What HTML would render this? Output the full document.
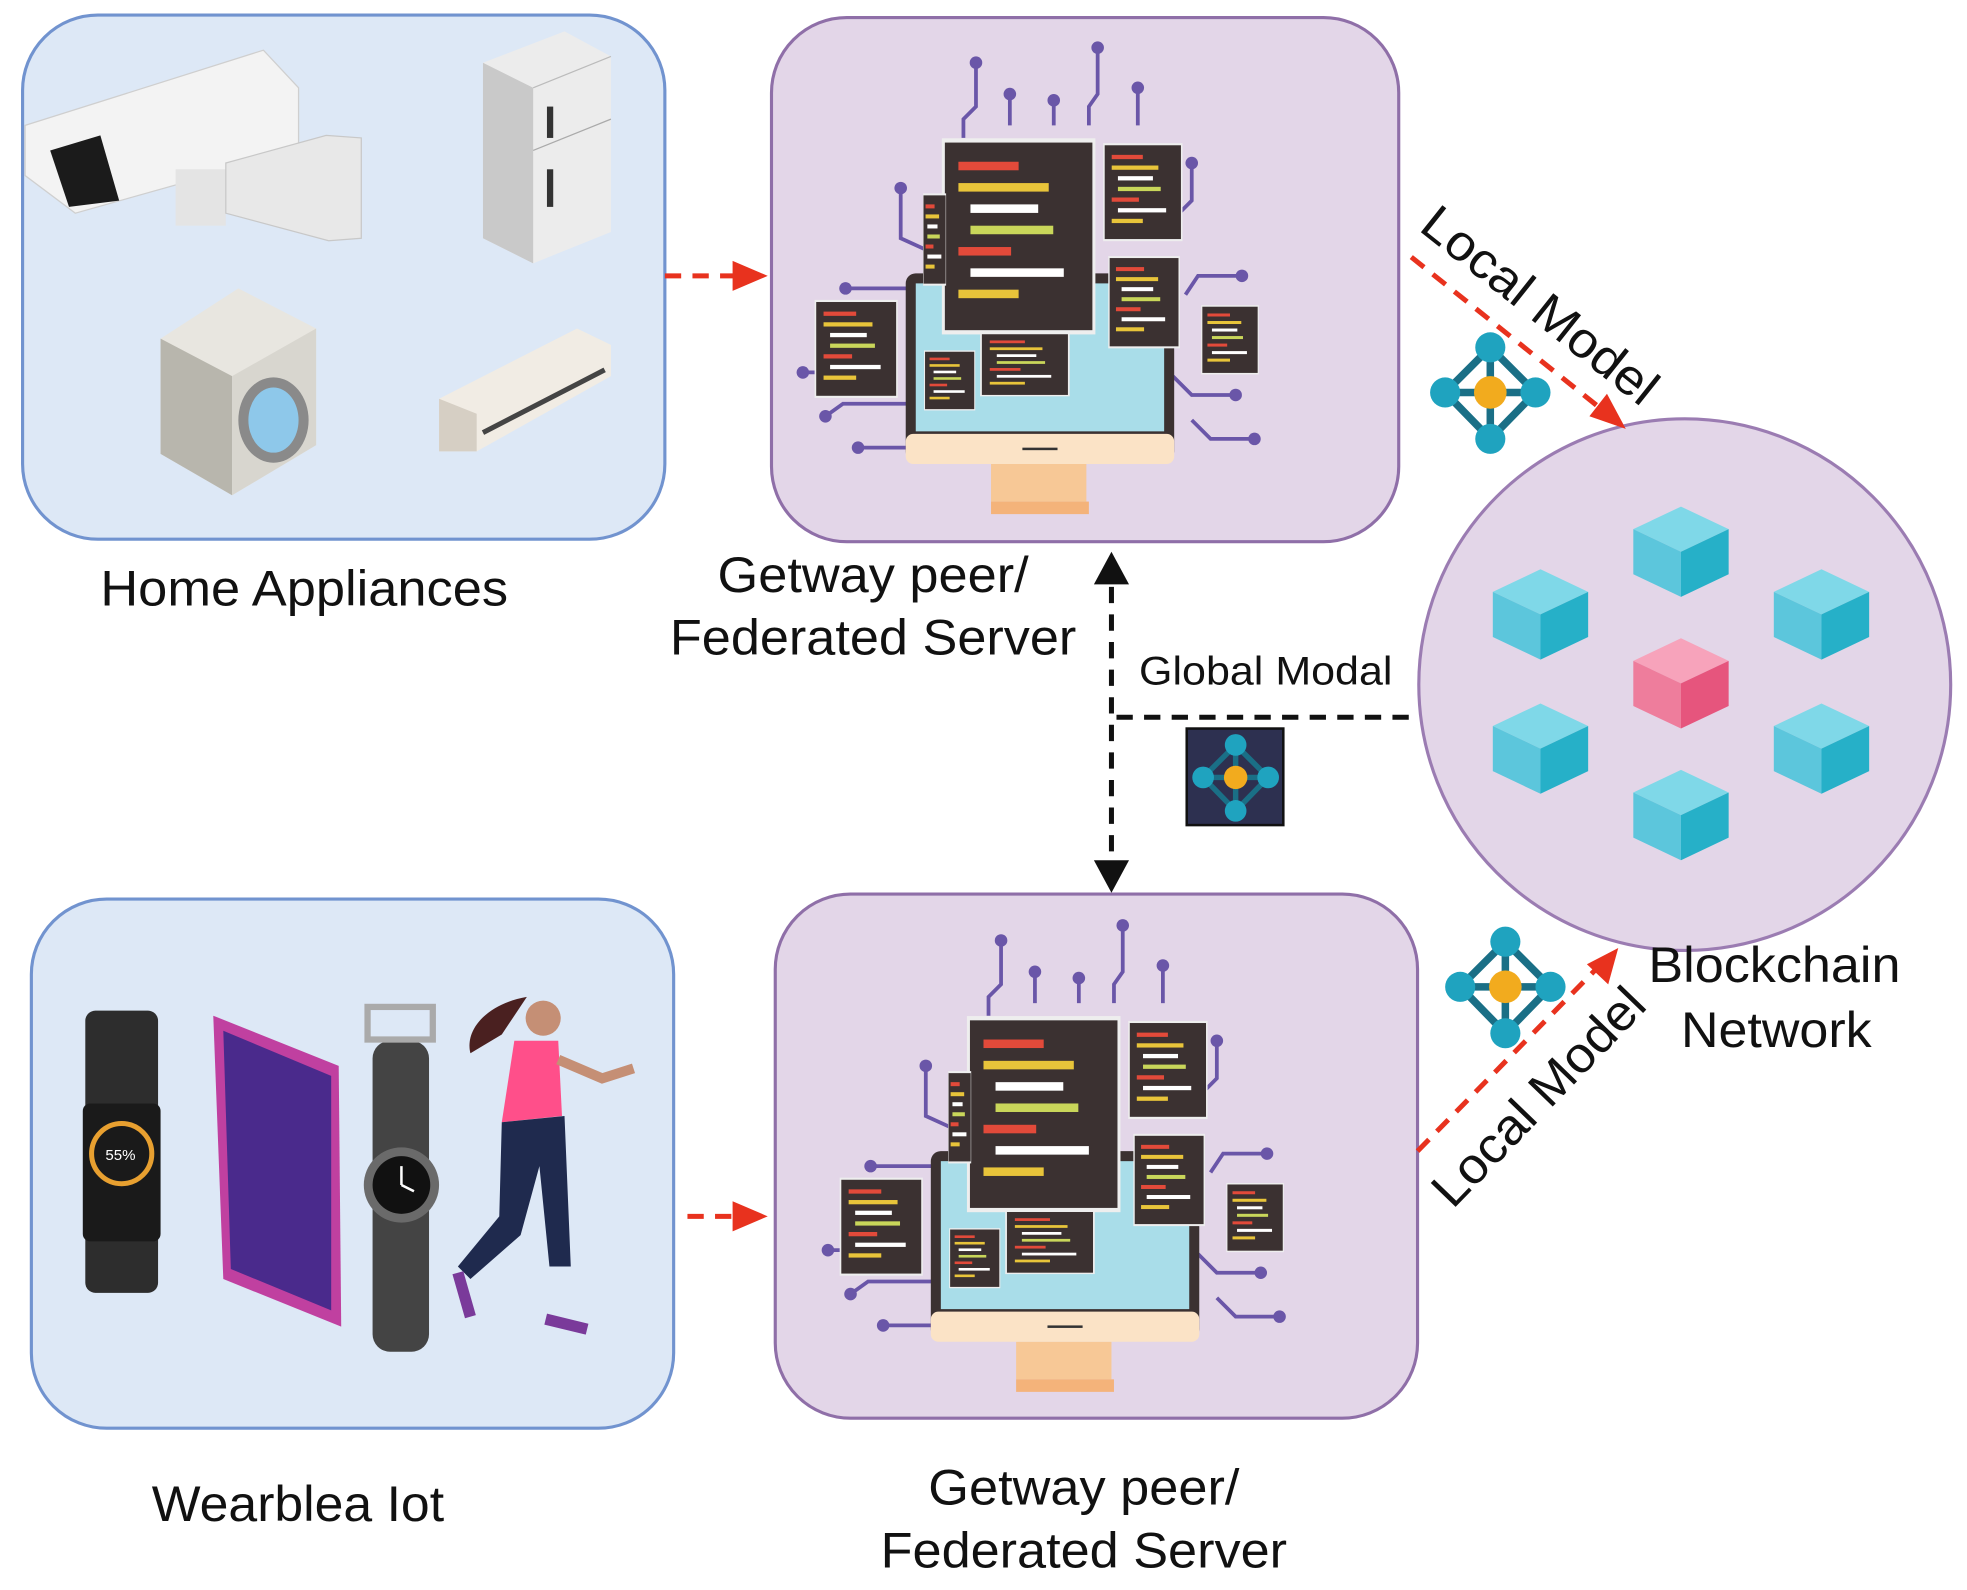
<!DOCTYPE html>
<html><head><meta charset="utf-8"><style>
html,body{margin:0;padding:0;background:#fff}
svg{display:block}
text{font-family:"Liberation Sans",sans-serif;fill:#111}
</style></head><body>
<svg width="1967" height="1590" viewBox="0 0 1568 1268" preserveAspectRatio="none" xmlns="http://www.w3.org/2000/svg">
<defs>
<g id="net">
<path d="M0,-36 L-36,0 L0,37 L36,0 Z M0,-36 L0,37 M-36,0 L36,0" stroke="#1a6f86" stroke-width="6" fill="none"/>
<circle cx="0" cy="-36" r="12" fill="#1fa3bf"/><circle cx="-36" cy="0" r="12" fill="#1fa3bf"/>
<circle cx="36" cy="0" r="12" fill="#1fa3bf"/><circle cx="0" cy="37" r="12" fill="#1fa3bf"/>
<circle cx="0" cy="0" r="13" fill="#f2ab1e"/>
</g>
<g id="cube">
<path d="M0,-36 L38,-18 L0,0 L-38,-18 Z" fill="#7fd8e8"/>
<path d="M-38,-18 L0,0 L0,36 L-38,18 Z" fill="#5cc6dc"/>
<path d="M38,-18 L0,0 L0,36 L38,18 Z" fill="#26b0c8"/>
</g>
<g id="cw"><rect width="100" height="90" fill="#3b3131" stroke="#eee" stroke-width="2"/>
<rect x="10" y="10" width="40" height="4" fill="#e24a3a"/><rect x="10" y="20" width="60" height="4" fill="#e8c43a"/><rect x="18" y="30" width="45" height="4" fill="#fff"/><rect x="18" y="40" width="55" height="4" fill="#c9d65a"/><rect x="10" y="50" width="35" height="4" fill="#e24a3a"/><rect x="18" y="60" width="62" height="4" fill="#fff"/><rect x="10" y="70" width="40" height="4" fill="#e8c43a"/></g>
<g id="mon">
<g stroke="#6a56a8" stroke-width="3" fill="none">
<path d="M778,50 V85 L768,95 V110"/><path d="M805,75 V100"/><path d="M840,80 V100"/><path d="M875,38 V75 L868,85 V100"/><path d="M907,70 V100"/>
<path d="M718,150 V190 L740,200"/><path d="M950,130 V160 L940,170"/><path d="M990,220 H955 L945,235"/><path d="M674,230 H730"/><path d="M640,297 H660"/>
<path d="M658,332 L672,322 H725"/><path d="M684,357 H725"/><path d="M985,315 H950 L935,300"/><path d="M1000,350 H965 L950,335"/>
</g>
<g fill="#6a56a8"><circle cx="778" cy="50" r="5"/><circle cx="805" cy="75" r="5"/><circle cx="840" cy="80" r="5"/><circle cx="875" cy="38" r="5"/><circle cx="907" cy="70" r="5"/><circle cx="718" cy="150" r="5"/><circle cx="950" cy="130" r="5"/><circle cx="990" cy="220" r="5"/><circle cx="674" cy="230" r="5"/><circle cx="640" cy="297" r="5"/><circle cx="658" cy="332" r="5"/><circle cx="684" cy="357" r="5"/><circle cx="985" cy="315" r="5"/><circle cx="1000" cy="350" r="5"/></g>
<rect x="790" y="370" width="76" height="30" fill="#f7c896"/><rect x="790" y="400" width="78" height="10" fill="#f4b37a"/>
<rect x="722" y="218" width="214" height="150" rx="8" fill="#3b3131"/>
<rect x="730" y="226" width="198" height="118" fill="#a9dde9"/>
<rect x="722" y="346" width="214" height="24" rx="6" fill="#fbe3c6"/>
<rect x="815" y="357" width="28" height="2" fill="#333"/>
<use href="#cw" transform="translate(752,112) scale(1.2,1.7)"/>
<use href="#cw" transform="translate(880,115) scale(0.62,0.85)"/>
<use href="#cw" transform="translate(884,205) scale(0.56,0.8)"/>
<use href="#cw" transform="translate(650,240) scale(0.65,0.85)"/>
<use href="#cw" transform="translate(958,244) scale(0.45,0.6)"/>
<use href="#cw" transform="translate(737,280) scale(0.4,0.52)"/>
<use href="#cw" transform="translate(782,266) scale(0.7,0.55)"/>
<use href="#cw" transform="translate(736,155) scale(0.18,0.8)"/>
</g>
</defs>
<rect x="18" y="12" width="512" height="418" rx="60" fill="#dde8f6" stroke="#7193cf" stroke-width="2.5"/>
<rect x="25" y="717" width="512" height="422" rx="60" fill="#dde8f6" stroke="#7193cf" stroke-width="2.5"/>
<rect x="615" y="14" width="500" height="418" rx="60" fill="#e3d6e8" stroke="#8f6fa8" stroke-width="2.5"/>
<rect x="618" y="713" width="512" height="418" rx="60" fill="#e3d6e8" stroke="#8f6fa8" stroke-width="2.5"/>
<circle cx="1343" cy="546" r="212" fill="#e3d6e8" stroke="#9b7cb2" stroke-width="2.5"/>
<g>
<path d="M20,100 L210,40 L238,70 L238,120 L60,170 L20,140 Z" fill="#f3f3f3" stroke="#cfcfcf"/>
<path d="M40,120 L80,108 L95,160 L55,165 Z" fill="#1b1b1b"/>
<rect x="140" y="135" width="40" height="45" fill="#e4e4e4"/>
<path d="M180,130 L260,108 L288,110 L288,190 L262,192 L180,170 Z" fill="#e8e8e8" stroke="#c8c8c8"/>
<path d="M385,50 L450,25 L487,45 L487,185 L425,210 L385,190 Z" fill="#ececec"/>
<path d="M385,50 L425,70 L425,210 L385,190 Z" fill="#c9c9c9"/>
<path d="M425,70 L487,45" stroke="#bbb"/><path d="M425,120 L487,95" stroke="#aaa"/>
<rect x="436" y="85" width="5" height="25" fill="#333"/><rect x="436" y="135" width="5" height="30" fill="#333"/>
<path d="M128,270 L190,230 L252,262 L252,355 L185,395 L128,362 Z" fill="#e8e6e0"/>
<path d="M128,270 L185,300 L185,395 L128,362 Z" fill="#b8b6ad"/>
<path d="M185,300 L252,262 L252,355 L185,395 Z" fill="#d8d6cf"/>
<ellipse cx="218" cy="335" rx="28" ry="34" fill="#8a8a8a"/><ellipse cx="218" cy="335" rx="20" ry="26" fill="#8ec8ea"/>
<path d="M350,318 L460,262 L487,275 L487,300 L380,360 L350,360 Z" fill="#f1ece4"/>
<path d="M350,318 L380,330 L380,360 L350,360 Z" fill="#d6cfc4"/>
<path d="M385,345 L482,295" stroke="#444" stroke-width="4"/>
</g>
<g>
<rect x="68" y="806" width="58" height="225" rx="8" fill="#2d2d2d"/>
<rect x="66" y="880" width="62" height="110" rx="6" fill="#1a1a1a"/>
<circle cx="97" cy="920" r="24" fill="none" stroke="#e8a030" stroke-width="4"/>
<text x="84" y="925" font-size="12" style="fill:#fff">55%</text>
<path d="M170,810 L270,850 L272,1058 L178,1020 Z" fill="#c040a0"/>
<path d="M178,822 L264,858 L264,1045 L184,1012 Z" fill="#4a2a8c"/>
<rect x="297" y="830" width="45" height="248" rx="14" fill="#444"/>
<rect x="293" y="803" width="52" height="26" fill="none" stroke="#aaa" stroke-width="5"/>
<circle cx="320" cy="945" r="30" fill="#6a6a6a"/><circle cx="320" cy="945" r="23" fill="#111"/>
<path d="M320,945 L320,930 M320,945 L330,950" stroke="#fff" stroke-width="2"/>
<path d="M420,795 C390,800 370,820 375,840 L400,825 Z" fill="#4a2020"/>
<circle cx="433" cy="812" r="14" fill="#c58f75"/>
<path d="M410,830 L445,830 L448,890 L400,895 Z" fill="#ff4f8a"/>
<path d="M400,895 L450,890 L455,1010 L438,1010 L430,930 L415,985 L375,1020 L365,1010 L398,970 Z" fill="#1f2a4e"/>
<path d="M445,845 L480,860 L505,852" stroke="#c58f75" stroke-width="8" fill="none"/>
<path d="M365,1015 L375,1050" stroke="#7a3a9a" stroke-width="9"/><path d="M435,1052 L468,1060" stroke="#7a3a9a" stroke-width="9"/>
</g>
<use href="#mon"/>
<use href="#mon" transform="translate(20,700)"/>
<use href="#cube" transform="translate(1340,440)"/>
<use href="#cube" transform="translate(1228,490)"/>
<use href="#cube" transform="translate(1452,490)"/>
<g transform="translate(1340,545)"><path d="M0,-36 L38,-18 L0,0 L-38,-18 Z" fill="#f7a3bb"/><path d="M-38,-18 L0,0 L0,36 L-38,18 Z" fill="#ee7d9c"/><path d="M38,-18 L0,0 L0,36 L38,18 Z" fill="#e6557d"/></g>
<use href="#cube" transform="translate(1228,597)"/>
<use href="#cube" transform="translate(1452,597)"/>
<use href="#cube" transform="translate(1340,650)"/>
<use href="#net" transform="translate(1188,313)"/>
<use href="#net" transform="translate(1200,787)"/>
<rect x="946" y="581" width="77" height="77" fill="#2d3050" stroke="#111" stroke-width="2"/>
<use href="#net" transform="translate(985,620) scale(0.72)"/>
<g stroke="#e8321e" stroke-width="4" stroke-dasharray="13,9" fill="none">
<path d="M530,220 L600,220"/><path d="M548,970 L600,970"/>
<path d="M1125,205 L1285,333"/><path d="M1130,918 L1280,765"/>
</g>
<path d="M584,208 L612,220 L584,232 Z" fill="#e8321e"/>
<path d="M584,958 L612,970 L584,982 Z" fill="#e8321e"/>
<path d="M1296,342 L1267,332 L1281,314 Z" fill="#e8321e"/>
<path d="M1290,756 L1282,785 L1265,769 Z" fill="#e8321e"/>
<g stroke="#111" stroke-width="4" stroke-dasharray="13,9" fill="none">
<path d="M886,468 L886,690"/><path d="M890,572 L1130,572"/>
</g>
<path d="M872,466 L886,440 L900,466 Z" fill="#111"/>
<path d="M872,686 L886,712 L900,686 Z" fill="#111"/>
<text x="80" y="483" font-size="40" textLength="325" lengthAdjust="spacingAndGlyphs">Home Appliances</text>
<text x="572" y="472" font-size="40" textLength="248" lengthAdjust="spacingAndGlyphs">Getway peer/</text>
<text x="534" y="522" font-size="40" textLength="324" lengthAdjust="spacingAndGlyphs">Federated Server</text>
<text x="908" y="546" font-size="32" textLength="202" lengthAdjust="spacingAndGlyphs">Global  Modal</text>
<text x="1314" y="783" font-size="40" textLength="201" lengthAdjust="spacingAndGlyphs">Blockchain</text>
<text x="1340" y="835" font-size="40" textLength="152" lengthAdjust="spacingAndGlyphs">Network</text>
<text x="121" y="1213" font-size="40" textLength="233" lengthAdjust="spacingAndGlyphs">Wearblea Iot</text>
<text x="740" y="1200" font-size="40" textLength="248" lengthAdjust="spacingAndGlyphs">Getway peer/</text>
<text x="702" y="1250" font-size="40" textLength="324" lengthAdjust="spacingAndGlyphs">Federated Server</text>
<text x="0" y="0" font-size="40" textLength="228" lengthAdjust="spacingAndGlyphs" transform="translate(1130,183) rotate(38.5)">Local Model</text>
<text x="0" y="0" font-size="40" textLength="225" lengthAdjust="spacingAndGlyphs" transform="translate(1158,965) rotate(-46)">Local Model</text>
</svg>
</body></html>
